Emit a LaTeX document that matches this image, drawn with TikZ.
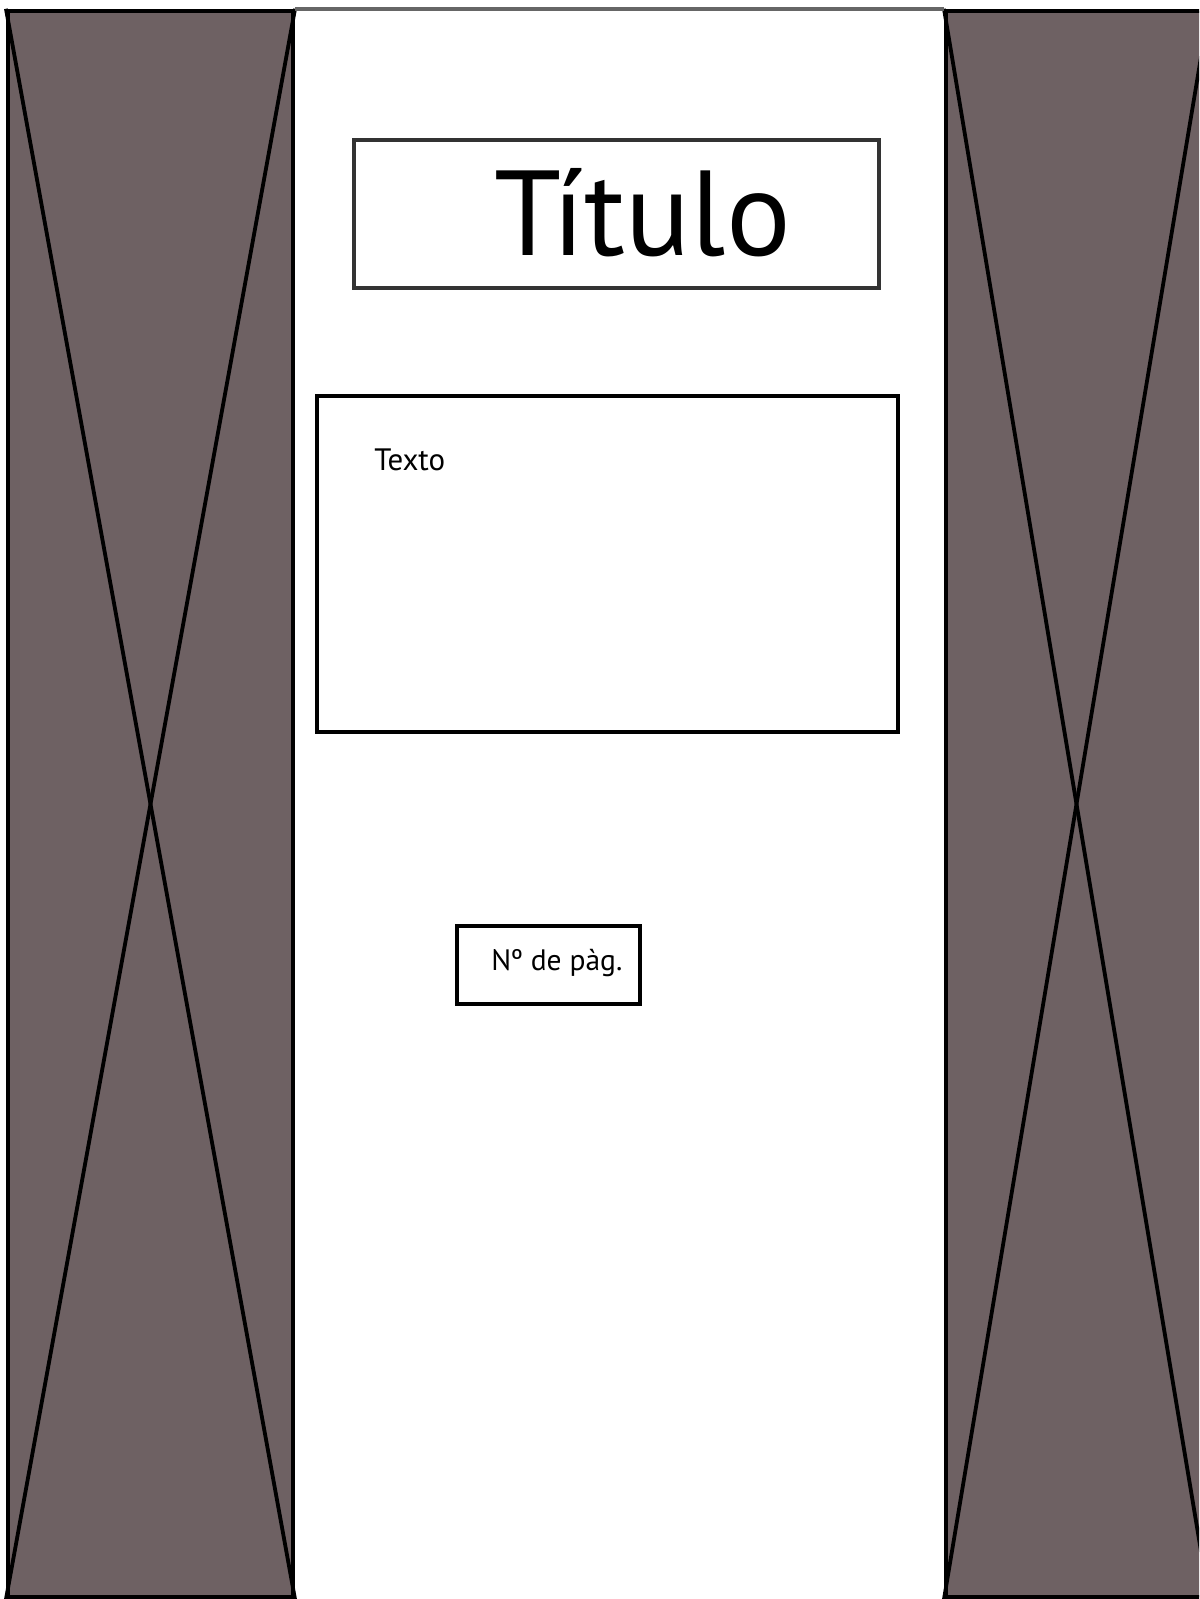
\documentclass[tikz,border=0pt]{standalone}
\usepackage{fontspec}
\setmainfont{PT Sans}
\usepackage{tikz}
\usetikzlibrary{positioning}
\definecolor{panelgray}{RGB}{110,97,99}

\begin{document}
\begin{tikzpicture}[
  x=0.025cm, y=-0.025cm,
  panel/.style={draw, line width=1mm, fill=panelgray, inner sep=0pt, minimum height=39.65cm},
  diag/.style={line width=0.95mm},
  frame/.style={draw, line width=0.9mm, fill=white, inner sep=0pt},
  label/.style={inner sep=0pt, font=\fontsize{21}{25}\selectfont}
]
\fill[white] (0,0) rectangle (1199,1599);
\clip (0,0) rectangle (1199,1599);

% side panels
\node[panel, minimum width=7.125cm] (lpanel) at (150.5,804) {};
\node[panel, minimum width=6.525cm] (rpanel) at (1076.5,804) {};
\draw[diag] (lpanel.north west) -- (lpanel.south east);
\draw[diag] (lpanel.north east) -- (lpanel.south west);
\draw[diag] (rpanel.north west) -- (rpanel.south east);
\draw[diag] (rpanel.north east) -- (rpanel.south west);
\draw[line width=1mm, black!60] (lpanel.north east) -- (rpanel.north west);

% page content
\node[frame, draw=black!80, minimum width=13.125cm, minimum height=3.7cm] (titlebox) at (616.5,214) {};
\node[frame, minimum width=14.525cm, minimum height=8.4cm] (textbox) at (607.5,564) {};
\node[frame, minimum width=4.575cm, minimum height=1.95cm] (pagebox) at (548.5,965) {};

\node[inner sep=0pt, anchor=base west, font=\fontsize{86}{100}\selectfont] (titulo) at (494,255) {Título};
\node[label, anchor=base west, font=\fontsize{22}{26}\selectfont] (texto) at (374,470) {Texto};
\node[label, anchor=base west] (pagnum) at (491,970) {Nº de pàg.};
\end{tikzpicture}
\end{document}
